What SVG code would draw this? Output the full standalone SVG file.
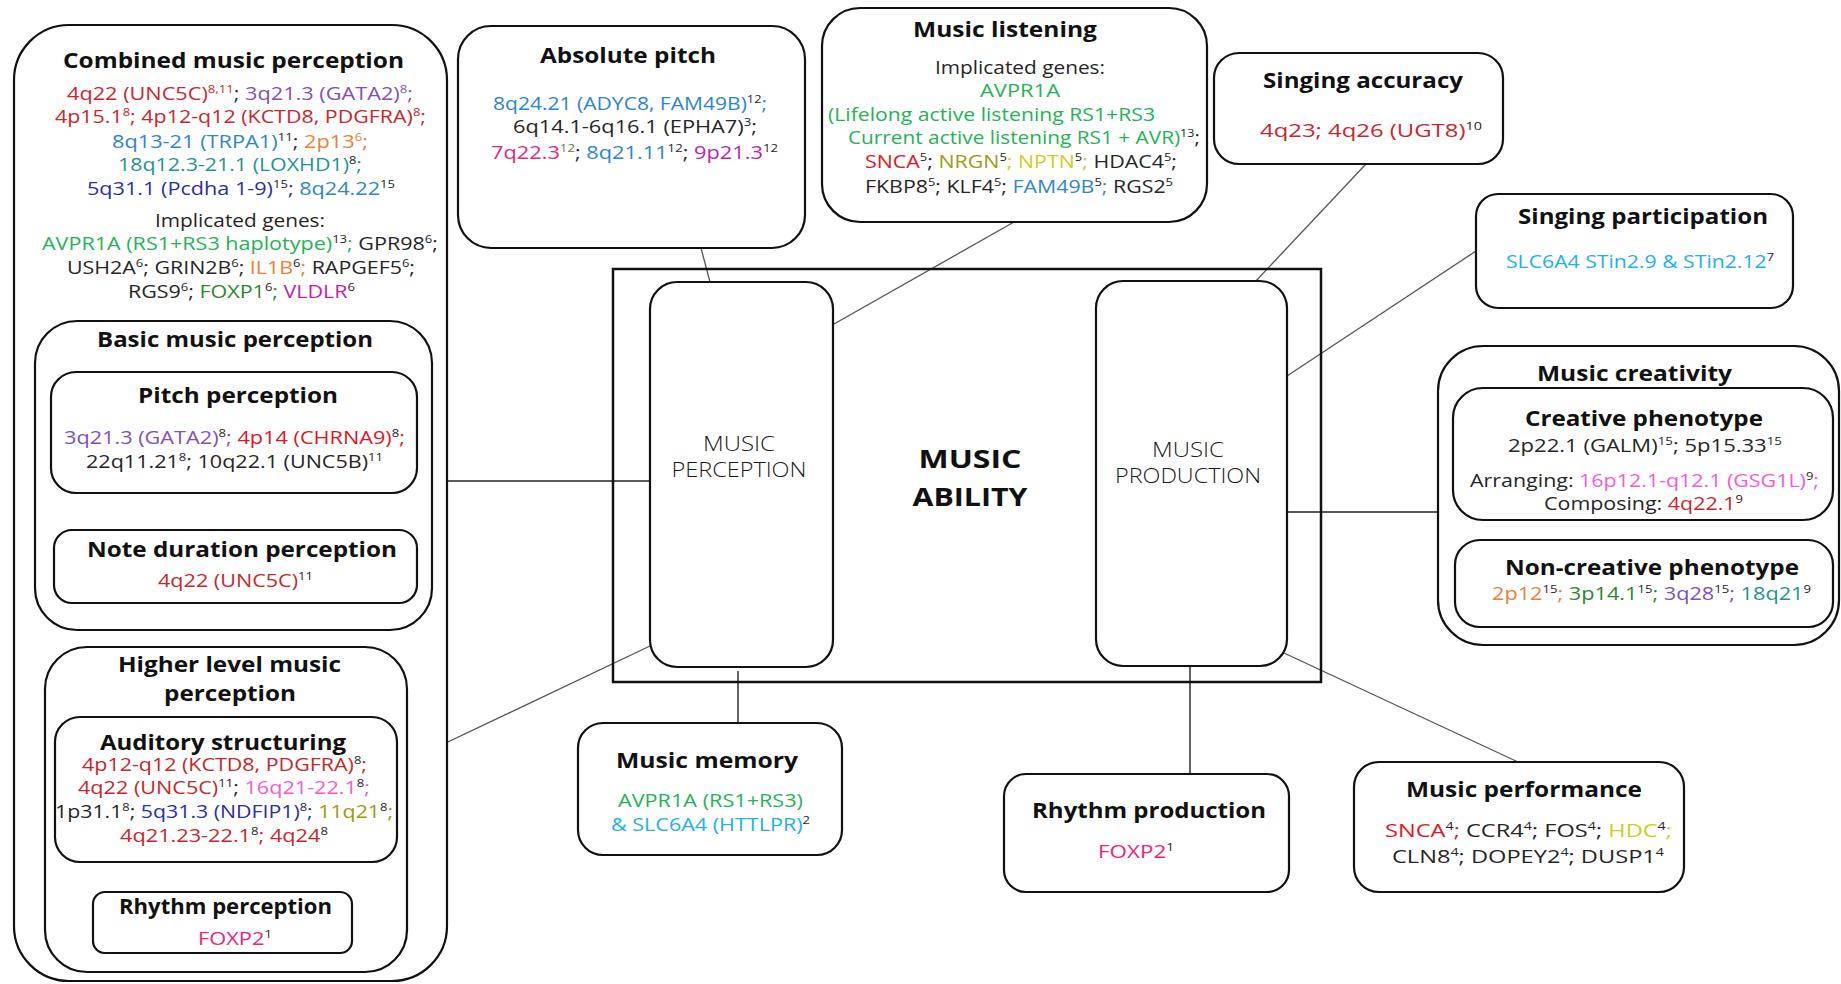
<svg xmlns="http://www.w3.org/2000/svg" width="1841" height="984" viewBox="0 0 1841 984">
<style>
text{font-family:"Open Sans","Liberation Sans",sans-serif;fill:#262626}
.h{font-size:21.5px;font-weight:bold;fill:#111}
.b{font-size:19px}
.c{font-size:20px;font-weight:300;fill:#1a1a1a}
.big{font-size:25px;font-weight:bold;fill:#111}
.s{font-size:11.5px}
.box{fill:#fff;stroke:#111;stroke-width:2.2}
.frame{fill:none;stroke:#111;stroke-width:2.5}
.ln{stroke:#555;stroke-width:1.3;fill:none}
.lk{stroke:#222;stroke-width:1.4;fill:none}
.r{fill:#C8282B}.rr{fill:#E0161E}.pu{fill:#8150BC}.bl{fill:#2E86CF}.or{fill:#EE8036}.te{fill:#1E9690}.db{fill:#2B2FA8}.gr{fill:#25B356}.dg{fill:#2A8A2A}.mg{fill:#C21DAE}.pk{fill:#F55AD6}.fx{fill:#F0247C}.ol{fill:#9C9A12}.ye{fill:#D4CC1A}.lb{fill:#22B0EE}.gs{fill:#5B7F3A}.k{fill:#262626}
</style>
<g id="connectors">
<path class="lk" d="M432,481 H650"/>
<path class="ln" d="M412,759 L650,646"/>
<path class="ln" d="M701,248 L710,282"/>
<path class="ln" d="M1014,222 L834,324"/>
<path class="ln" d="M1366,164 L1254,283"/>
<path class="ln" d="M1476,251 L1287,376"/>
<path class="lk" d="M1287,512 H1438"/>
<path class="lk" d="M738,671 V723"/>
<path class="lk" d="M1190,666 V774"/>
<path class="ln" d="M1284,653 L1518,762"/>
</g>
<g id="combined-music-perception">
<rect class="box" x="14" y="25" width="433" height="956" rx="55"/>
<text class="h" x="63" y="68" textLength="341" lengthAdjust="spacingAndGlyphs">Combined music perception</text>
<text class="b" x="67" y="100" textLength="346" lengthAdjust="spacingAndGlyphs"><tspan class="r">4q22 (UNC5C)</tspan><tspan class="s r" dy="-7">8,11</tspan><tspan dy="7">; </tspan><tspan class="pu">3q21.3 (GATA2)</tspan><tspan class="s pu" dy="-7">8</tspan><tspan class="pu" dy="7">;</tspan></text>
<text class="b r" x="55" y="123" textLength="371" lengthAdjust="spacingAndGlyphs"><tspan class="r">4p15.1</tspan><tspan class="s r" dy="-7">8</tspan><tspan class="r" dy="7">; 4p12-q12 (KCTD8, PDGFRA)</tspan><tspan class="s r" dy="-7">8</tspan><tspan class="r" dy="7">;</tspan></text>
<text class="b" x="112" y="148" textLength="256" lengthAdjust="spacingAndGlyphs"><tspan class="bl">8q13-21 (TRPA1)</tspan><tspan class="s k" dy="-7">11</tspan><tspan dy="7">; </tspan><tspan class="or">2p13</tspan><tspan class="s or" dy="-7">6</tspan><tspan class="or" dy="7">;</tspan></text>
<text class="b" x="118" y="171" textLength="244" lengthAdjust="spacingAndGlyphs"><tspan class="te">18q12.3-21.1 (LOXHD1)</tspan><tspan class="s k" dy="-7">8</tspan><tspan class="te" dy="7">;</tspan></text>
<text class="b" x="87" y="195" textLength="308" lengthAdjust="spacingAndGlyphs"><tspan class="db">5q31.1 (Pcdha 1-9)</tspan><tspan class="s k" dy="-7">15</tspan><tspan class="db" dy="7">; </tspan><tspan class="bl">8q24.22</tspan><tspan class="s k" dy="-7">15</tspan></text>
<text class="b" x="155" y="227" textLength="170" lengthAdjust="spacingAndGlyphs">Implicated genes:</text>
<text class="b" x="42" y="250" textLength="396" lengthAdjust="spacingAndGlyphs"><tspan class="gr">AVPR1A (RS1+RS3 haplotype)</tspan><tspan class="s k" dy="-7">13</tspan><tspan class="gr" dy="7">; </tspan><tspan>GPR98</tspan><tspan class="s" dy="-7">6</tspan><tspan dy="7">;</tspan></text>
<text class="b" x="67" y="274" textLength="348" lengthAdjust="spacingAndGlyphs"><tspan>USH2A</tspan><tspan class="s" dy="-7">6</tspan><tspan dy="7">; GRIN2B</tspan><tspan class="s" dy="-7">6</tspan><tspan dy="7">; </tspan><tspan class="or">IL1B</tspan><tspan class="s k" dy="-7">6</tspan><tspan class="or" dy="7">; </tspan><tspan>RAPGEF5</tspan><tspan class="s" dy="-7">6</tspan><tspan dy="7">;</tspan></text>
<text class="b" x="128" y="298" textLength="227" lengthAdjust="spacingAndGlyphs"><tspan>RGS9</tspan><tspan class="s" dy="-7">6</tspan><tspan dy="7">; </tspan><tspan class="dg">FOXP1</tspan><tspan class="s k" dy="-7">6</tspan><tspan class="dg" dy="7">; </tspan><tspan class="mg">VLDLR</tspan><tspan class="s k" dy="-7">6</tspan></text>
</g>
<g id="basic-music-perception">
<rect class="box" x="35" y="321" width="397" height="309" rx="42"/>
<text class="h" x="97" y="347" textLength="276" lengthAdjust="spacingAndGlyphs">Basic music perception</text>
</g>
<g id="pitch-perception">
<rect class="box" x="51" y="372" width="366" height="121" rx="25"/>
<text class="h" x="138" y="403" textLength="200" lengthAdjust="spacingAndGlyphs">Pitch perception</text>
<text class="b" x="64" y="444" textLength="341" lengthAdjust="spacingAndGlyphs"><tspan class="pu">3q21.3 (GATA2)</tspan><tspan class="s k" dy="-7">8</tspan><tspan class="pu" dy="7">; </tspan><tspan class="rr">4p14 (CHRNA9)</tspan><tspan class="s k" dy="-7">8</tspan><tspan class="rr" dy="7">;</tspan></text>
<text class="b" x="86" y="468" textLength="297" lengthAdjust="spacingAndGlyphs"><tspan>22q11.21</tspan><tspan class="s" dy="-7">8</tspan><tspan dy="7">; 10q22.1 (UNC5B)</tspan><tspan class="s" dy="-7">11</tspan></text>
</g>
<g id="note-duration-perception">
<rect class="box" x="54" y="530" width="363" height="73" rx="18"/>
<text class="h" x="87" y="557" textLength="310" lengthAdjust="spacingAndGlyphs">Note duration perception</text>
<text class="b" x="158" y="587" textLength="155" lengthAdjust="spacingAndGlyphs"><tspan class="r">4q22 (UNC5C)</tspan><tspan class="s k" dy="-7">11</tspan></text>
</g>
<g id="higher-level-music-perception">
<rect class="box" x="45" y="647" width="362" height="325" rx="42"/>
<text class="h" x="118" y="672" textLength="223" lengthAdjust="spacingAndGlyphs">Higher level music</text>
<text class="h" x="164" y="701" textLength="132" lengthAdjust="spacingAndGlyphs">perception</text>
</g>
<g id="auditory-structuring">
<rect class="box" x="55" y="717" width="342" height="145" rx="25"/>
<text class="h" x="100" y="750" textLength="246" lengthAdjust="spacingAndGlyphs">Auditory structuring</text>
<text class="b" x="82" y="771" textLength="285" lengthAdjust="spacingAndGlyphs"><tspan class="r">4p12-q12 (KCTD8, PDGFRA)</tspan><tspan class="s k" dy="-7">8</tspan><tspan class="r" dy="7">;</tspan></text>
<text class="b" x="78" y="794" textLength="292" lengthAdjust="spacingAndGlyphs"><tspan class="r">4q22 (UNC5C)</tspan><tspan class="s k" dy="-7">11</tspan><tspan dy="7">; </tspan><tspan class="pk">16q21-22.1</tspan><tspan class="s k" dy="-7">8</tspan><tspan class="pk" dy="7">;</tspan></text>
<text class="b" x="55" y="818" textLength="338" lengthAdjust="spacingAndGlyphs"><tspan>1p31.1</tspan><tspan class="s" dy="-7">8</tspan><tspan dy="7">; </tspan><tspan class="db">5q31.3 (NDFIP1)</tspan><tspan class="s k" dy="-7">8</tspan><tspan class="db" dy="7">; </tspan><tspan class="ol">11q21</tspan><tspan class="s k" dy="-7">8</tspan><tspan class="ol" dy="7">;</tspan></text>
<text class="b" x="120" y="842" textLength="208" lengthAdjust="spacingAndGlyphs"><tspan class="r">4q21.23-22.1</tspan><tspan class="s k" dy="-7">8</tspan><tspan class="r" dy="7">; 4q24</tspan><tspan class="s k" dy="-7">8</tspan></text>
</g>
<g id="rhythm-perception">
<rect class="box" x="93" y="892" width="259" height="61" rx="12"/>
<text class="h" x="119" y="914" textLength="213" lengthAdjust="spacingAndGlyphs">Rhythm perception</text>
<text class="b" x="198" y="945" textLength="74" lengthAdjust="spacingAndGlyphs"><tspan class="fx">FOXP2</tspan><tspan class="s k" dy="-7">1</tspan></text>
</g>
<g id="absolute-pitch">
<rect class="box" x="458" y="26" width="347" height="222" rx="33"/>
<text class="h" x="540" y="63" textLength="176" lengthAdjust="spacingAndGlyphs">Absolute pitch</text>
<text class="b" x="493" y="110" textLength="274" lengthAdjust="spacingAndGlyphs"><tspan class="bl">8q24.21 (ADYC8, FAM49B)</tspan><tspan class="s k" dy="-7">12</tspan><tspan class="bl" dy="7">;</tspan></text>
<text class="b" x="513" y="133" textLength="244" lengthAdjust="spacingAndGlyphs"><tspan>6q14.1-6q16.1 (EPHA7)</tspan><tspan class="s" dy="-7">3</tspan><tspan dy="7">;</tspan></text>
<text class="b" x="491" y="159" textLength="287" lengthAdjust="spacingAndGlyphs"><tspan class="fx">7q22.3</tspan><tspan class="s gs" dy="-7">12</tspan><tspan dy="7">; </tspan><tspan class="bl">8q21.11</tspan><tspan class="s k" dy="-7">12</tspan><tspan dy="7">; </tspan><tspan class="mg">9p21.3</tspan><tspan class="s k" dy="-7">12</tspan></text>
</g>
<g id="music-listening">
<rect class="box" x="822" y="8" width="385" height="214" rx="38"/>
<text class="h" x="913" y="37" textLength="184" lengthAdjust="spacingAndGlyphs">Music listening</text>
<text class="b" x="935" y="74" textLength="170" lengthAdjust="spacingAndGlyphs">Implicated genes:</text>
<text class="b gr" x="980" y="97" textLength="80" lengthAdjust="spacingAndGlyphs">AVPR1A</text>
<text class="b gr" x="828" y="121" textLength="327" lengthAdjust="spacingAndGlyphs">(Lifelong active listening  RS1+RS3</text>
<text class="b" x="848" y="144" textLength="352" lengthAdjust="spacingAndGlyphs"><tspan class="gr">Current active listening  RS1 + AVR)</tspan><tspan class="s k" dy="-7">13</tspan><tspan dy="7">;</tspan></text>
<text class="b" x="865" y="168" textLength="312" lengthAdjust="spacingAndGlyphs"><tspan class="rr">SNCA</tspan><tspan class="s" dy="-7">5</tspan><tspan dy="7">; </tspan><tspan class="ol">NRGN</tspan><tspan class="s k" dy="-7">5</tspan><tspan class="ye" dy="7">; NPTN</tspan><tspan class="s k" dy="-7">5</tspan><tspan class="ye" dy="7">; </tspan><tspan>HDAC4</tspan><tspan class="s" dy="-7">5</tspan><tspan dy="7">;</tspan></text>
<text class="b" x="865" y="193" textLength="308" lengthAdjust="spacingAndGlyphs"><tspan>FKBP8</tspan><tspan class="s" dy="-7">5</tspan><tspan dy="7">; KLF4</tspan><tspan class="s" dy="-7">5</tspan><tspan dy="7">; </tspan><tspan class="bl">FAM49B</tspan><tspan class="s k" dy="-7">5</tspan><tspan class="bl" dy="7">; </tspan><tspan>RGS2</tspan><tspan class="s" dy="-7">5</tspan></text>
</g>
<g id="singing-accuracy">
<rect class="box" x="1214" y="53" width="289" height="111" rx="25"/>
<text class="h" x="1263" y="88" textLength="200" lengthAdjust="spacingAndGlyphs">Singing accuracy</text>
<text class="b" x="1260" y="137" textLength="222" lengthAdjust="spacingAndGlyphs"><tspan class="r">4q23; 4q26 (UGT8)</tspan><tspan class="s" dy="-7">10</tspan></text>
</g>
<g id="singing-participation">
<rect class="box" x="1476" y="194" width="317" height="114" rx="22"/>
<text class="h" x="1518" y="224" textLength="250" lengthAdjust="spacingAndGlyphs">Singing participation</text>
<text class="b" x="1506" y="268" textLength="268" lengthAdjust="spacingAndGlyphs"><tspan class="lb">SLC6A4 STin2.9 &amp; STin2.12</tspan><tspan class="s k" dy="-7">7</tspan></text>
</g>
<g id="music-creativity">
<rect class="box" x="1438" y="346" width="401" height="299" rx="45"/>
<text class="h" x="1537" y="381" textLength="195" lengthAdjust="spacingAndGlyphs">Music creativity</text>
</g>
<g id="creative-phenotype">
<rect class="box" x="1453" y="388" width="380" height="132" rx="30"/>
<text class="h" x="1525" y="426" textLength="238" lengthAdjust="spacingAndGlyphs">Creative phenotype</text>
<text class="b" x="1508" y="452" textLength="274" lengthAdjust="spacingAndGlyphs"><tspan>2p22.1 (GALM)</tspan><tspan class="s" dy="-7">15</tspan><tspan dy="7">; 5p15.33</tspan><tspan class="s" dy="-7">15</tspan></text>
<text class="b" x="1470" y="487" textLength="349" lengthAdjust="spacingAndGlyphs"><tspan>Arranging: </tspan><tspan class="pk">16p12.1-q12.1 (GSG1L)</tspan><tspan class="s k" dy="-7">9</tspan><tspan class="pk" dy="7">;</tspan></text>
<text class="b" x="1544" y="510" textLength="199" lengthAdjust="spacingAndGlyphs"><tspan>Composing: </tspan><tspan class="r">4q22.1</tspan><tspan class="s k" dy="-7">9</tspan></text>
</g>
<g id="non-creative-phenotype">
<rect class="box" x="1455" y="540" width="378" height="87" rx="25"/>
<text class="h" x="1505" y="575" textLength="294" lengthAdjust="spacingAndGlyphs">Non-creative phenotype</text>
<text class="b" x="1492" y="600" textLength="319" lengthAdjust="spacingAndGlyphs"><tspan class="or">2p12</tspan><tspan class="s k" dy="-7">15</tspan><tspan class="or" dy="7">; </tspan><tspan class="dg">3p14.1</tspan><tspan class="s k" dy="-7">15</tspan><tspan class="dg" dy="7">; </tspan><tspan class="pu">3q28</tspan><tspan class="s k" dy="-7">15</tspan><tspan class="pu" dy="7">; </tspan><tspan class="te">18q21</tspan><tspan class="s k" dy="-7">9</tspan></text>
</g>
<g id="music-ability">
<rect class="frame" x="613" y="269" width="708" height="413"/>
<text class="big" x="918.5" y="468" textLength="103" lengthAdjust="spacingAndGlyphs">MUSIC</text>
<text class="big" x="912.5" y="506" textLength="115" lengthAdjust="spacingAndGlyphs">ABILITY</text>
</g>
<g id="music-perception">
<rect class="box" x="650" y="282" width="183" height="385" rx="27"/>
<text class="c" x="703" y="451" textLength="72" lengthAdjust="spacingAndGlyphs">MUSIC</text>
<text class="c" x="671.5" y="477" textLength="135" lengthAdjust="spacingAndGlyphs">PERCEPTION</text>
</g>
<g id="music-production">
<rect class="box" x="1096" y="281" width="191" height="385" rx="27"/>
<text class="c" x="1152" y="457" textLength="72" lengthAdjust="spacingAndGlyphs">MUSIC</text>
<text class="c" x="1115" y="483" textLength="146" lengthAdjust="spacingAndGlyphs">PRODUCTION</text>
</g>
<g id="music-memory">
<rect class="box" x="578" y="723" width="264" height="132" rx="25"/>
<text class="h" x="616" y="768" textLength="182" lengthAdjust="spacingAndGlyphs">Music memory</text>
<text class="b gr" x="618" y="807" textLength="185" lengthAdjust="spacingAndGlyphs">AVPR1A (RS1+RS3)</text>
<text class="b" x="611" y="831" textLength="199" lengthAdjust="spacingAndGlyphs"><tspan class="lb">&amp; SLC6A4 (HTTLPR)</tspan><tspan class="s k" dy="-7">2</tspan></text>
</g>
<g id="rhythm-production">
<rect class="box" x="1004" y="774" width="285" height="118" rx="22"/>
<text class="h" x="1032" y="818" textLength="234" lengthAdjust="spacingAndGlyphs">Rhythm production</text>
<text class="b" x="1098" y="858" textLength="76" lengthAdjust="spacingAndGlyphs"><tspan class="fx">FOXP2</tspan><tspan class="s k" dy="-7">1</tspan></text>
</g>
<g id="music-performance">
<rect class="box" x="1354" y="762" width="330" height="130" rx="25"/>
<text class="h" x="1406" y="797" textLength="236" lengthAdjust="spacingAndGlyphs">Music performance</text>
<text class="b" x="1385" y="837" textLength="287" lengthAdjust="spacingAndGlyphs"><tspan class="rr">SNCA</tspan><tspan class="s k" dy="-7">4</tspan><tspan class="rr" dy="7">; </tspan><tspan>CCR4</tspan><tspan class="s" dy="-7">4</tspan><tspan dy="7">; FOS</tspan><tspan class="s" dy="-7">4</tspan><tspan dy="7">; </tspan><tspan class="ye">HDC</tspan><tspan class="s k" dy="-7">4</tspan><tspan class="ye" dy="7">;</tspan></text>
<text class="b" x="1392" y="863" textLength="272" lengthAdjust="spacingAndGlyphs"><tspan>CLN8</tspan><tspan class="s" dy="-7">4</tspan><tspan dy="7">; DOPEY2</tspan><tspan class="s" dy="-7">4</tspan><tspan dy="7">; DUSP1</tspan><tspan class="s" dy="-7">4</tspan></text>
</g>
</svg>
